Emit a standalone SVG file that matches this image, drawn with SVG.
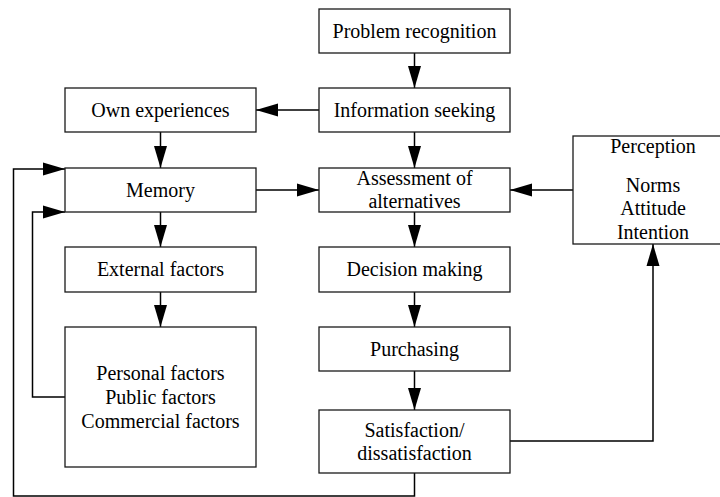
<svg xmlns="http://www.w3.org/2000/svg" width="720" height="497" viewBox="0 0 720 497">
  <style>
    .box { fill: #ffffff; stroke: #1a1a1a; stroke-width: 1.3; }
    .lbl { font-family: "Liberation Serif", "Times New Roman", serif; font-size: 20px; fill: #000000; text-anchor: middle; }
    .wire { fill: none; stroke: #000000; stroke-width: 1.5; }
  </style>
  <defs>
    <marker id="arrow" markerUnits="userSpaceOnUse" markerWidth="22" markerHeight="14" refX="22" refY="7" orient="auto">
      <path d="M0,0.5 L22,7 L0,13.5 z" fill="#000000"/>
    </marker>
  </defs>
  <rect width="720" height="497" fill="#ffffff"/>

  <!-- connectors -->
  <g id="connectors">
    <line class="wire" x1="414.5" y1="53" x2="414.5" y2="88" marker-end="url(#arrow)"/>
    <line class="wire" x1="319" y1="110" x2="256" y2="110" marker-end="url(#arrow)"/>
    <line class="wire" x1="160.5" y1="132" x2="160.5" y2="168" marker-end="url(#arrow)"/>
    <line class="wire" x1="414.5" y1="132" x2="414.5" y2="168" marker-end="url(#arrow)"/>
    <line class="wire" x1="256" y1="190" x2="319" y2="190" marker-end="url(#arrow)"/>
    <line class="wire" x1="573" y1="190" x2="510" y2="190" marker-end="url(#arrow)"/>
    <line class="wire" x1="160.5" y1="212" x2="160.5" y2="247" marker-end="url(#arrow)"/>
    <line class="wire" x1="414.5" y1="212" x2="414.5" y2="247" marker-end="url(#arrow)"/>
    <line class="wire" x1="160.5" y1="292" x2="160.5" y2="327" marker-end="url(#arrow)"/>
    <line class="wire" x1="414.5" y1="292" x2="414.5" y2="327" marker-end="url(#arrow)"/>
    <line class="wire" x1="414.5" y1="371" x2="414.5" y2="410" marker-end="url(#arrow)"/>
    <polyline class="wire" points="510,441 653,441 653,244" marker-end="url(#arrow)"/>
    <polyline class="wire" points="414.5,473 414.5,496 13.5,496 13.5,169 65,169" marker-end="url(#arrow)"/>
    <polyline class="wire" points="65,397 32.5,397 32.5,212 65,212" marker-end="url(#arrow)"/>
  </g>

  <g id="problem-recognition">
    <rect class="box" x="319" y="9" width="191" height="44"/>
    <text class="lbl" x="414.5" y="38">Problem recognition</text>
  </g>
  <g id="information-seeking">
    <rect class="box" x="319" y="88" width="191" height="44"/>
    <text class="lbl" x="414.5" y="117">Information seeking</text>
  </g>
  <g id="own-experiences">
    <rect class="box" x="65" y="88" width="191" height="44"/>
    <text class="lbl" x="160.5" y="117">Own experiences</text>
  </g>
  <g id="memory">
    <rect class="box" x="65" y="168" width="191" height="44"/>
    <text class="lbl" x="160.5" y="197">Memory</text>
  </g>
  <g id="assessment">
    <rect class="box" x="319" y="168" width="191" height="44"/>
    <text class="lbl" x="414.5" y="185">Assessment of</text>
    <text class="lbl" x="414.5" y="208">alternatives</text>
  </g>
  <g id="perception">
    <rect class="box" x="573" y="136" width="160" height="108"/>
    <text class="lbl" x="653" y="153">Perception</text>
    <text class="lbl" x="653" y="192">Norms</text>
    <text class="lbl" x="653" y="215">Attitude</text>
    <text class="lbl" x="653" y="239">Intention</text>
  </g>
  <g id="external-factors">
    <rect class="box" x="65" y="247" width="191" height="45"/>
    <text class="lbl" x="160.5" y="276">External factors</text>
  </g>
  <g id="factor-groups">
    <rect class="box" x="65" y="327" width="191" height="140"/>
    <text class="lbl" x="160.5" y="380">Personal factors</text>
    <text class="lbl" x="160.5" y="404">Public factors</text>
    <text class="lbl" x="160.5" y="428">Commercial factors</text>
  </g>
  <g id="decision-making">
    <rect class="box" x="319" y="247" width="191" height="45"/>
    <text class="lbl" x="414.5" y="276">Decision making</text>
  </g>
  <g id="purchasing">
    <rect class="box" x="319" y="327" width="191" height="44"/>
    <text class="lbl" x="414.5" y="356">Purchasing</text>
  </g>
  <g id="satisfaction">
    <rect class="box" x="319" y="410" width="191" height="63"/>
    <text class="lbl" x="414.5" y="437">Satisfaction/</text>
    <text class="lbl" x="414.5" y="460">dissatisfaction</text>
  </g>
</svg>
